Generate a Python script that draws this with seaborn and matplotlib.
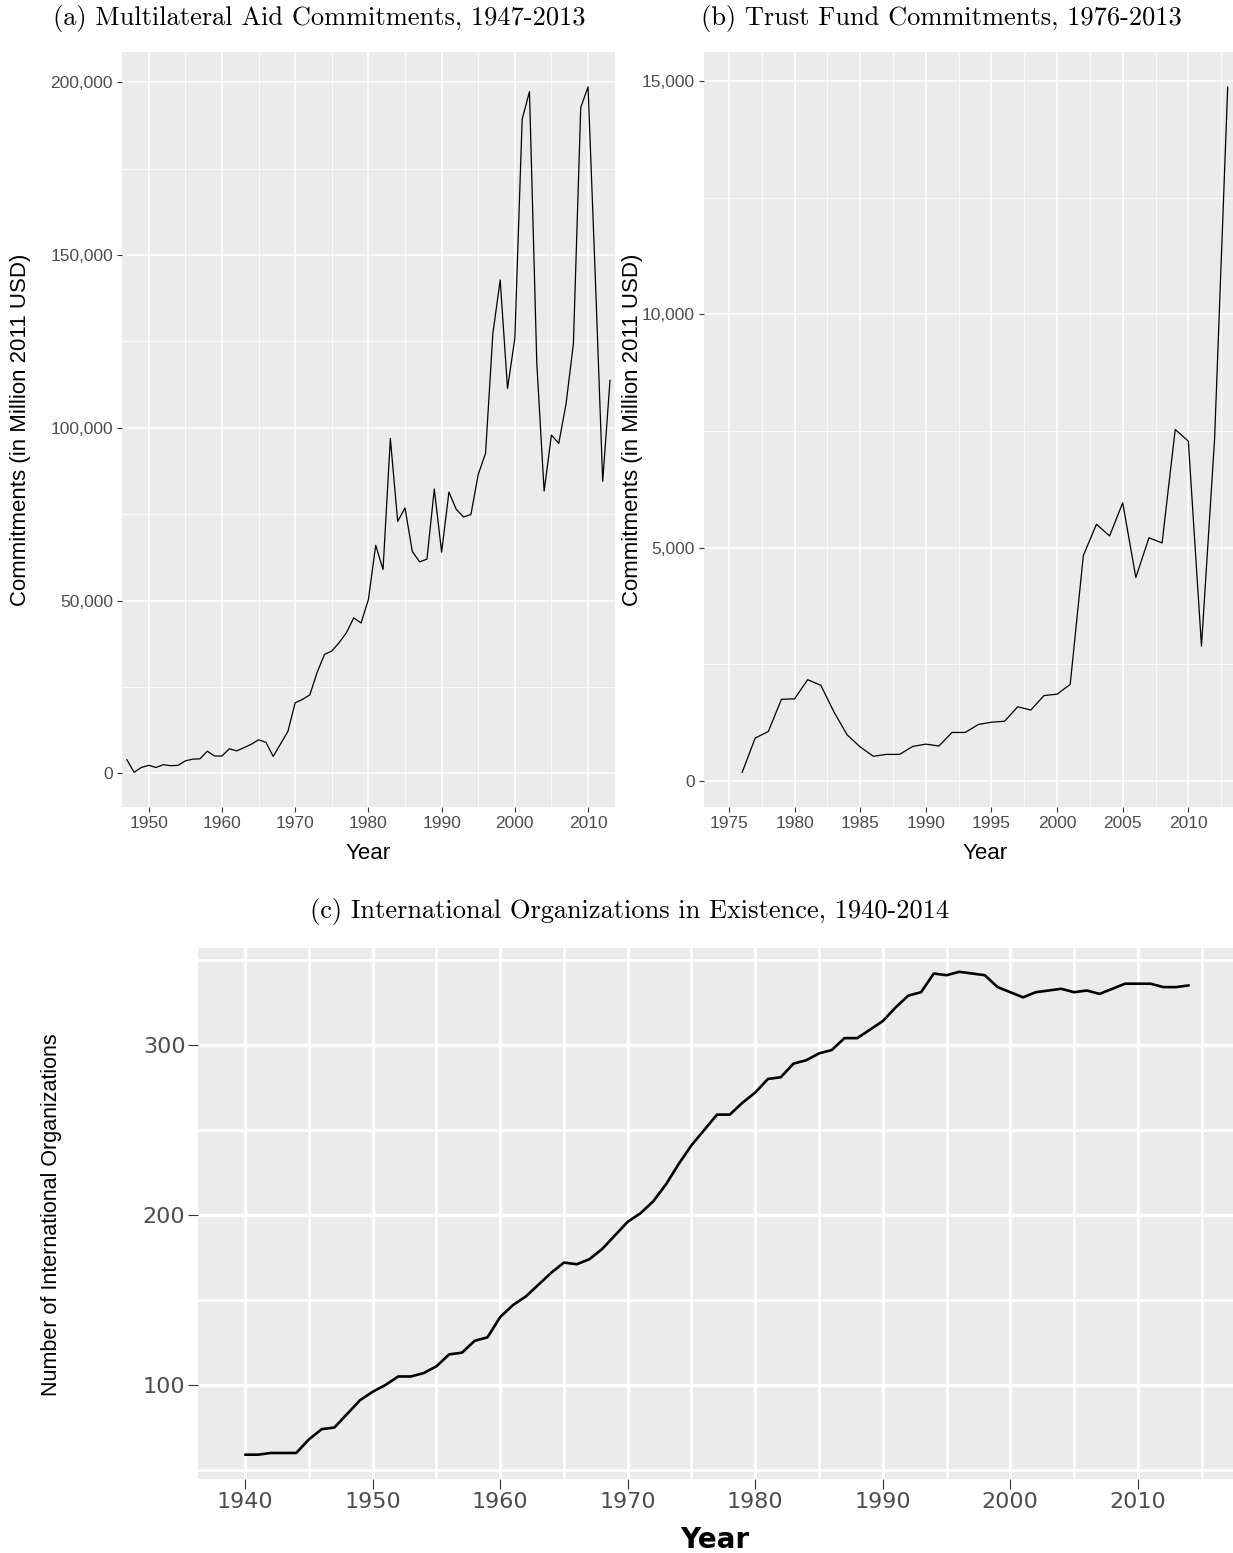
import numpy as np
import pandas as pd
import matplotlib
matplotlib.use("Agg")
import matplotlib.pyplot as plt
import matplotlib.ticker as mticker
import seaborn as sns

# (a) multilateral aid commitments, million 2011 USD
aid_years = list(range(1947, 2014))
aid_values = [4000, 300, 1700, 2300, 1700, 2500, 2200, 2300, 3600, 4100,
              4200, 6400, 5000, 5000, 7100, 6500, 7400, 8400, 9700, 9000,
              4900, 8500, 12100, 20400, 21400, 22700, 29200, 34400, 35400, 37800,
              40700, 45000, 43500, 50300, 66000, 59000, 96900, 72900, 76800, 64200,
              61200, 62000, 82300, 64000, 81400, 76400, 74200, 74900, 86500, 92600,
              127300, 142800, 111400, 125900, 189300, 197300, 118600, 81700, 97900, 95500,
              107000, 124400, 192700, 198700, 143000, 84500, 113800]

# (b) trust fund commitments
tf_years = list(range(1976, 2014))
tf_values = [180, 920, 1060, 1750, 1760, 2170, 2050, 1480, 990, 730,
             530, 570, 570, 740, 790, 750, 1040, 1040, 1210, 1260,
             1280, 1590, 1520, 1830, 1860, 2070, 4830, 5500, 5250, 5960,
             4360, 5210, 5100, 7530, 7280, 2890, 7330, 14870]

# (c) number of international organizations
io_years = list(range(1940, 2015))
io_counts = [59, 59, 60, 60, 60, 68, 74, 75, 83, 91,
             96, 100, 105, 105, 107, 111, 118, 119, 126, 128,
             140, 147, 152, 159, 166, 172, 171, 174, 180, 188,
             196, 201, 208, 218, 230, 241, 250, 259, 259, 266,
             272, 280, 281, 289, 291, 295, 297, 304, 304, 309,
             314, 322, 329, 331, 342, 341, 343, 342, 341, 334,
             331, 328, 331, 332, 333, 331, 332, 330, 333, 336,
             336, 336, 334, 334, 335]

aid = pd.DataFrame({"Year": aid_years, "Commitments": aid_values})
tf = pd.DataFrame({"Year": tf_years, "Commitments": tf_values})
io = pd.DataFrame({"Year": io_years, "Count": io_counts})

sns.set_theme(style="darkgrid", rc={
    "axes.facecolor": "#EBEBEB",
    "grid.color": "white",
    "axes.edgecolor": "#EBEBEB",
})
plt.rcParams["font.family"] = ["Liberation Sans", "DejaVu Sans"]

W, H = 1233, 1553
fig = plt.figure(figsize=(W / 100, H / 100), dpi=100)


def px_axes(left, top, right, bottom):
    return fig.add_axes([left / W, 1 - bottom / H, (right - left) / W, (bottom - top) / H])


comma = mticker.FuncFormatter(lambda v, p: f"{v:,.0f}")


def gg_style(ax, size, lab_color="#4D4D4D", tick_len=3.5, major_lw=1.1, minor_lw=0.55, pad=3):
    ax.grid(which="major", color="white", linewidth=major_lw)
    ax.grid(which="minor", color="white", linewidth=minor_lw)
    ax.tick_params(which="major", length=tick_len, width=0.8, color="#333333",
                   labelsize=size, labelcolor=lab_color, pad=pad,
                   bottom=True, left=True)
    ax.tick_params(which="minor", length=0, bottom=False, left=False)
    for s in ax.spines.values():
        s.set_visible(False)


# ---- panel (a)
ax1 = px_axes(122, 52, 615, 807)
sns.lineplot(data=aid, x="Year", y="Commitments", ax=ax1, color="black", linewidth=0.9)
ax1.set_xlim(1946.35, 2013.68)
ax1.set_ylim(-9750, 208770)
ax1.xaxis.set_major_locator(mticker.MultipleLocator(10))
ax1.xaxis.set_minor_locator(mticker.MultipleLocator(5))
ax1.yaxis.set_major_locator(mticker.MultipleLocator(50000))
ax1.yaxis.set_minor_locator(mticker.MultipleLocator(25000))
ax1.yaxis.set_major_formatter(comma)
gg_style(ax1, 12.5)
ax1.set_xlabel("Year", fontsize=16, color="black")
ax1.set_ylabel("Commitments (in Million 2011 USD)", fontsize=16, color="black")
ax1.xaxis.set_label_coords(0.5, -0.048)
ax1.yaxis.set_label_coords(-0.185, 0.5)

# ---- panel (b)
ax2 = px_axes(704, 52, 1252, 807)
sns.lineplot(data=tf, x="Year", y="Commitments", ax=ax2, color="black", linewidth=0.9)
ax2.set_xlim(1973.1, 2014.85)
ax2.set_ylim(-557, 15617)
ax2.xaxis.set_major_locator(mticker.MultipleLocator(5))
ax2.xaxis.set_minor_locator(mticker.MultipleLocator(2.5))
ax2.yaxis.set_major_locator(mticker.MultipleLocator(5000))
ax2.yaxis.set_minor_locator(mticker.MultipleLocator(2500))
ax2.yaxis.set_major_formatter(comma)
gg_style(ax2, 12.5)
ax2.set_xlabel("Year", fontsize=16, color="black")
ax2.set_ylabel("Commitments (in Million 2011 USD)", fontsize=16, color="black")
ax2.xaxis.set_label_coords((985 - 704) / 548, -0.048)
ax2.yaxis.set_label_coords(-0.112, 0.5)

# ---- panel (c)
ax3 = px_axes(198, 948, 1236, 1479)
sns.lineplot(data=io, x="Year", y="Count", ax=ax3, color="black", linewidth=1.9)
ax3.set_xlim(1936.3, 2017.7)
ax3.set_ylim(44.7, 357)
ax3.xaxis.set_major_locator(mticker.MultipleLocator(10))
ax3.xaxis.set_minor_locator(mticker.MultipleLocator(5))
ax3.yaxis.set_major_locator(mticker.MultipleLocator(100))
ax3.yaxis.set_minor_locator(mticker.MultipleLocator(50))
gg_style(ax3, 16, tick_len=7, major_lw=2.4, minor_lw=1.8, pad=2)
for t in ax3.get_xticklabels() + ax3.get_yticklabels():
    t.set_family("DejaVu Sans")
ax3.set_xlabel("Year", fontsize=20, color="black", family="DejaVu Sans",
               fontweight="bold", va="center")
ax3.set_ylabel("Number of International Organizations", fontsize=15.5, color="black",
               family=["Liberation Sans Narrow", "Liberation Sans"])
ax3.xaxis.set_label_coords(0.498, -0.115)
ax3.yaxis.set_label_coords(-0.131, 0.497)

# ---- captions in LaTeX-like serif
cap = dict(fontsize=19, family="cmr10", ha="center", va="center", color="black")
fig.text(319 / W, 1 - 18 / H, "(a) Multilateral Aid Commitments, 1947-2013", **cap)
fig.text(941 / W, 1 - 18 / H, "(b) Trust Fund Commitments, 1976-2013", **cap)
fig.text(630 / W, 1 - 912 / H, "(c) International Organizations in Existence, 1940-2014", **cap)

fig.savefig("out.png", dpi=100)
